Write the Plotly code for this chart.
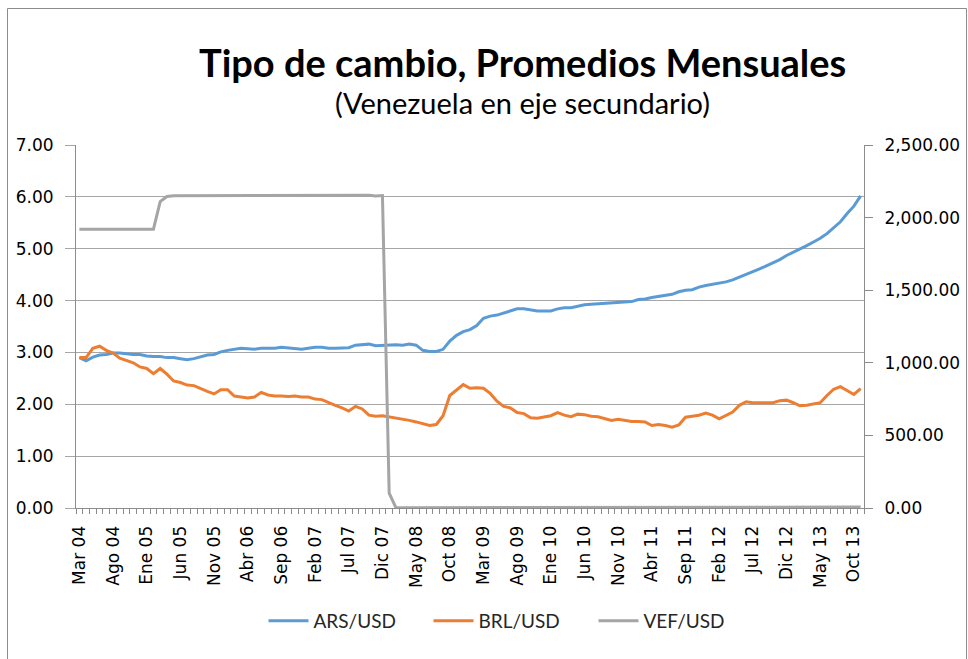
import plotly.graph_objects as go

months_es = ["Ene", "Feb", "Mar", "Abr", "May", "Jun", "Jul", "Ago", "Sep", "Oct", "Nov", "Dic"]
# Monthly categories: Mar 2004 .. Nov 2013
categories = []
for k in range(117):
    m = (2 + k) % 12
    y = 2004 + (2 + k) // 12
    categories.append(f"{months_es[m]} {str(y)[2:]}")

ars_usd = [2.90, 2.84, 2.91, 2.95, 2.96, 2.99, 2.99, 2.97, 2.96, 2.96,
           2.93, 2.92, 2.92, 2.90, 2.90, 2.88, 2.86, 2.88, 2.91, 2.95,
           2.96, 3.01, 3.04, 3.06, 3.08, 3.07, 3.06, 3.08, 3.08, 3.08,
           3.10, 3.09, 3.07, 3.06, 3.08, 3.10, 3.10, 3.08, 3.08, 3.08,
           3.09, 3.14, 3.15, 3.16, 3.13, 3.14, 3.15, 3.15, 3.14, 3.16,
           3.14, 3.04, 3.02, 3.02, 3.06, 3.22, 3.33, 3.40, 3.44, 3.52,
           3.66, 3.70, 3.72, 3.76, 3.80, 3.84, 3.84, 3.82, 3.80, 3.80,
           3.80, 3.84, 3.86, 3.86, 3.89, 3.92, 3.93, 3.94, 3.95, 3.95,
           3.96, 3.97, 3.98, 4.02, 4.03, 4.06, 4.08, 4.09, 4.12, 4.17,
           4.20, 4.21, 4.26, 4.29, 4.31, 4.33, 4.36, 4.40, 4.45, 4.50,
           4.55, 4.61, 4.67, 4.73, 4.79, 4.87, 4.93, 4.99, 5.06, 5.13,
           5.20, 5.29, 5.40, 5.52, 5.68, 5.82, 6.02]

brl_usd = [2.90, 2.90, 3.08, 3.12, 3.04, 2.99, 2.89, 2.85, 2.80, 2.72,
           2.69, 2.59, 2.69, 2.58, 2.45, 2.42, 2.37, 2.36, 2.30, 2.25,
           2.20, 2.28, 2.28, 2.16, 2.14, 2.12, 2.14, 2.23, 2.18, 2.16,
           2.16, 2.15, 2.16, 2.14, 2.14, 2.10, 2.09, 2.03, 1.98, 1.93,
           1.87, 1.96, 1.91, 1.79, 1.77, 1.78, 1.76, 1.73, 1.71, 1.69,
           1.66, 1.62, 1.59, 1.61, 1.78, 2.17, 2.28, 2.38, 2.31, 2.32,
           2.31, 2.21, 2.06, 1.96, 1.93, 1.84, 1.82, 1.74, 1.73, 1.75,
           1.78, 1.84, 1.79, 1.76, 1.81, 1.80, 1.77, 1.76, 1.72, 1.69,
           1.71, 1.69, 1.67, 1.67, 1.66, 1.59, 1.61, 1.59, 1.56, 1.60,
           1.75, 1.77, 1.79, 1.83, 1.79, 1.72, 1.79, 1.85, 1.98, 2.05,
           2.03, 2.03, 2.03, 2.03, 2.07, 2.08, 2.03, 1.97, 1.98, 2.00,
           2.03, 2.17, 2.29, 2.34, 2.27, 2.19, 2.30]

vef_usd = [1920, 1920, 1920, 1920, 1920, 1920, 1920, 1920, 1920, 1920,
           1920, 1920, 2110, 2145, 2150, 2150, 2150, 2150, 2150, 2150,
           2154, 2150, 2150, 2150, 2150, 2150, 2154, 2150, 2154, 2150,
           2150, 2150, 2150, 2150, 2150, 2150, 2150, 2150, 2150, 2150,
           2150, 2150, 2150, 2154, 2148, 2152, 103, 2.15, 2.15, 2.15,
           2.15, 2.15, 2.15, 2.15, 2.15, 2.15, 2.15, 2.15, 2.15, 2.15,
           2.15, 2.15, 2.15, 2.15, 2.15, 2.15, 2.15, 2.15, 2.15, 2.15,
           4.30, 4.30, 4.30, 4.30, 4.30, 4.30, 4.30, 4.30, 4.30, 4.30,
           4.30, 4.30, 4.30, 4.30, 4.30, 4.30, 4.30, 4.30, 4.30, 4.30,
           4.30, 4.30, 4.30, 4.30, 4.30, 4.30, 4.30, 4.30, 4.30, 4.30,
           4.30, 4.30, 4.30, 4.30, 4.30, 4.30, 4.30, 6.30, 6.30, 6.30,
           6.30, 6.30, 6.30, 6.30, 6.30, 6.30, 6.30]

x_idx = list(range(len(categories)))
tick_idx = x_idx[::5]
tick_text = categories[::5]

left_ticks = [0, 1, 2, 3, 4, 5, 6, 7]
right_ticks = [0, 500, 1000, 1500, 2000, 2500]

# Page body margin is removed (see post_script), so page px == figure px.
W, H = 968, 659
PLOT_L, PLOT_R, PLOT_T, PLOT_B = 76, 864, 145, 508
L, R, T, B = PLOT_L, W - PLOT_R, PLOT_T, H - PLOT_B
PW, PH = PLOT_R - PLOT_L, PLOT_B - PLOT_T

def px(xpage):
    return (xpage - PLOT_L) / PW

def py(ypage):
    return (PLOT_B - ypage) / PH

tick_font = dict(family="DejaVu Sans", size=17, color="#000000")
grid = "#A6A6A6"
axis_col = "#8C8C8C"

fig = go.Figure()
fig.add_trace(go.Scatter(x=x_idx, y=ars_usd, name="ARS/USD", mode="lines",
                         line=dict(color="#5B9BD5", width=3)))
fig.add_trace(go.Scatter(x=x_idx, y=brl_usd, name="BRL/USD", mode="lines",
                         line=dict(color="#ED7D31", width=3)))
fig.add_trace(go.Scatter(x=x_idx, y=vef_usd, name="VEF/USD", mode="lines",
                         line=dict(color="#A5A5A5", width=3), yaxis="y2"))

fig.update_layout(
    width=W, height=H,
    margin=dict(l=L, r=R, t=T, b=B, autoexpand=False),
    paper_bgcolor="white", plot_bgcolor="white",
    showlegend=True,
    legend=dict(orientation="h", x=px(511), y=py(621), xanchor="center", yanchor="middle",
                font=dict(family="Lato", size=19, color="#262626"),
                itemwidth=40, entrywidth=110, entrywidthmode="pixels", tracegroupgap=0),
    xaxis=dict(range=[-0.5, 116.5], tickmode="array", tickvals=tick_idx, ticktext=tick_text,
               tickangle=-90, ticks="", showgrid=False, zeroline=False,
               showline=True, linecolor=axis_col, linewidth=1, automargin=False,
               tickfont=tick_font, ticklabelstandoff=10,
               minor=dict(ticks="outside", tick0=-0.5, dtick=1, ticklen=5,
                          tickcolor=axis_col, showgrid=False)),
    yaxis=dict(range=[0, 7], tickmode="array", tickvals=left_ticks,
               tickformat=".2f", ticks="outside", ticklen=10, tickcolor=grid,
               showgrid=True, gridcolor=grid, gridwidth=1, zeroline=False,
               showline=True, linecolor=axis_col, linewidth=1, automargin=False,
               tickfont=tick_font, ticklabelstandoff=8),
    yaxis2=dict(range=[0, 2500], tickmode="array", tickvals=right_ticks,
                tickformat=",.2f", overlaying="y", side="right",
                ticks="outside", ticklen=8, tickcolor=axis_col,
                showgrid=False, zeroline=False, automargin=False,
                showline=True, linecolor=axis_col, linewidth=1,
                tickfont=tick_font, ticklabelstandoff=8),
    annotations=[
        dict(text="<b>Tipo de cambio, Promedios Mensuales</b>", xref="paper", yref="paper",
             x=px(522), y=py(62), xanchor="center", yanchor="middle", showarrow=False,
             font=dict(family="Lato", size=38, color="#000000")),
        dict(text="(Venezuela en eje secundario)", xref="paper", yref="paper",
             x=px(522), y=py(103), xanchor="center", yanchor="middle", showarrow=False,
             font=dict(family="Lato", size=29, color="#000000")),
    ],
    shapes=[
        dict(type="rect", xref="paper", yref="paper", x0=px(7.5), x1=px(966.5),
             y0=py(680), y1=py(8.5), line=dict(color="#8C8C8C", width=1),
             fillcolor="rgba(0,0,0,0)", layer="below"),
    ],
)

fig.write_html("out.html", config={"displayModeBar": False},
               post_script="document.body.style.margin='0px';document.body.style.overflow='hidden';")
